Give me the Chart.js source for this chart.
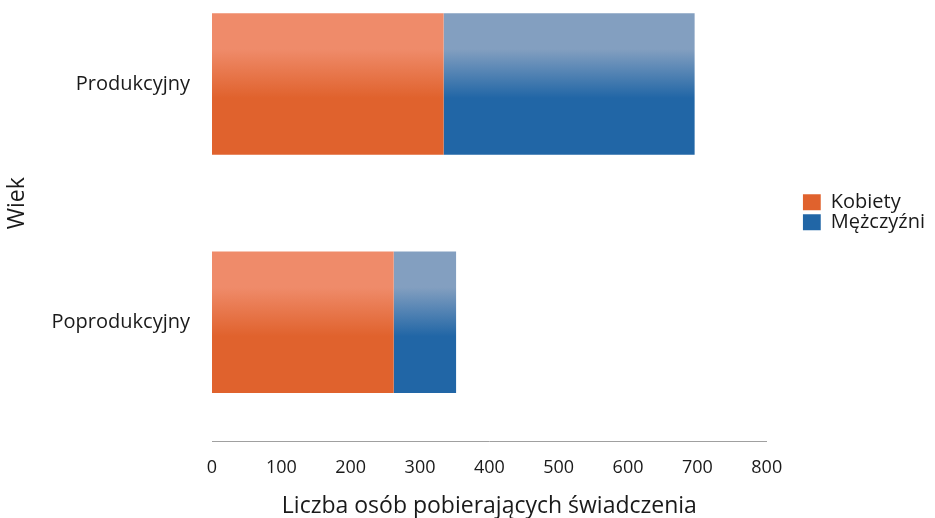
<!DOCTYPE html>
<html>
<head>
<meta charset="utf-8">
<script src="https://cdn.jsdelivr.net/npm/chart.js@4"></script>
<style>
  html, body { margin: 0; padding: 0; background: #fff; overflow: hidden; }
  #wrap { width: 935px; height: 518px; overflow: hidden; position: relative; }
  /* canvas is a bit taller than the page, shifted up so the top band starts above the window */
  #barChart { position: absolute; left: 0; top: -35px; }
</style>
</head>
<body>
<div id="wrap"><canvas id="barChart" width="935" height="553"></canvas></div>
<script>
const categories = ["Produkcyjny", "Poprodukcyjny"];
const kobiety = [334, 262];
const mezczyzni = [362, 90];
const xTicks = [0, 100, 200, 300, 400, 500, 600, 700, 800];

Chart.defaults.font.family = "'Open Sans', 'Noto Sans', sans-serif";
Chart.defaults.color = "#1a1a1a";

function barGradient(context, top, bottom) {
  const chart = context.chart;
  const y = chart.scales && chart.scales.y;
  if (!chart.chartArea || !y || context.dataIndex === undefined) return bottom;
  const c = y.getPixelForValue(context.dataIndex);
  const g = chart.ctx.createLinearGradient(0, c - 70, 0, c + 70);
  g.addColorStop(0, top);
  g.addColorStop(0.25, top);
  g.addColorStop(0.6, bottom);
  g.addColorStop(1, bottom);
  return g;
}

const barData = {
  labels: categories,
  datasets: [
    {
      label: "Kobiety",
      data: kobiety,
      backgroundColor: (ctx) => barGradient(ctx, "#ef8b6a", "#e0622d"),
      borderWidth: 0,
    },
    {
      label: "Mężczyźni",
      data: mezczyzni,
      backgroundColor: (ctx) => barGradient(ctx, "#839fc0", "#2166a6"),
      borderWidth: 0,
    },
  ],
};

const barConfig = {
  type: "bar",
  data: barData,
  options: {
    indexAxis: "y",
    responsive: false,
    animation: false,
    barPercentage: 1,
    categoryPercentage: 0.594,
    layout: {
      padding: { top: 0, right: 0, bottom: 0, left: 4 },
    },
    plugins: {
      legend: {
        position: "right",
        fullSize: false,
        // blank title just nudges the items down a little
        title: {
          display: true,
          text: "",
          font: { size: 1 },
          padding: { top: 0, bottom: 17 },
        },
        labels: {
          boxWidth: 18,
          boxHeight: 16,
          padding: 0,
          font: { size: 20 },
          color: "#1a1a1a",
        },
      },
      tooltip: { enabled: false },
    },
    scales: {
      x: {
        stacked: true,
        min: 0,
        max: 800,
        afterBuildTicks: (axis) => {
          axis.ticks = xTicks.map((v) => ({ value: v }));
        },
        grid: { display: false, drawTicks: false },
        border: { display: true, color: "#a0a0a0", width: 1 },
        ticks: {
          padding: 16,
          maxRotation: 0,
          font: { size: 18 },
          color: "#1a1a1a",
        },
        title: {
          display: true,
          text: "Liczba osób pobierających świadczenia",
          font: { size: 23, lineHeight: 1 },
          color: "#1a1a1a",
          padding: { top: 0, bottom: 0 },
        },
      },
      y: {
        stacked: true,
        grid: { display: false, drawTicks: false },
        border: { display: false },
        afterFit: (scale) => {
          scale.width = 208;
          // no extra room above/below the category labels
          scale.paddingTop = 0;
          scale.paddingBottom = 0;
        },
        ticks: {
          padding: 22,
          font: { size: 20 },
          color: "#1a1a1a",
        },
        title: {
          display: true,
          text: "Wiek",
          font: { size: 23 },
          color: "#1a1a1a",
          padding: { top: 0, bottom: 0 },
        },
      },
      // empty spacer between plot and legend
      gap: {
        type: "linear",
        axis: "y",
        position: "right",
        grid: { display: false, drawTicks: false },
        border: { display: false },
        ticks: { display: false },
        afterFit: (scale) => {
          scale.width = 36;
        },
      },
    },
  },
};

new Chart(document.getElementById("barChart"), barConfig);
</script>
</body>
</html>
